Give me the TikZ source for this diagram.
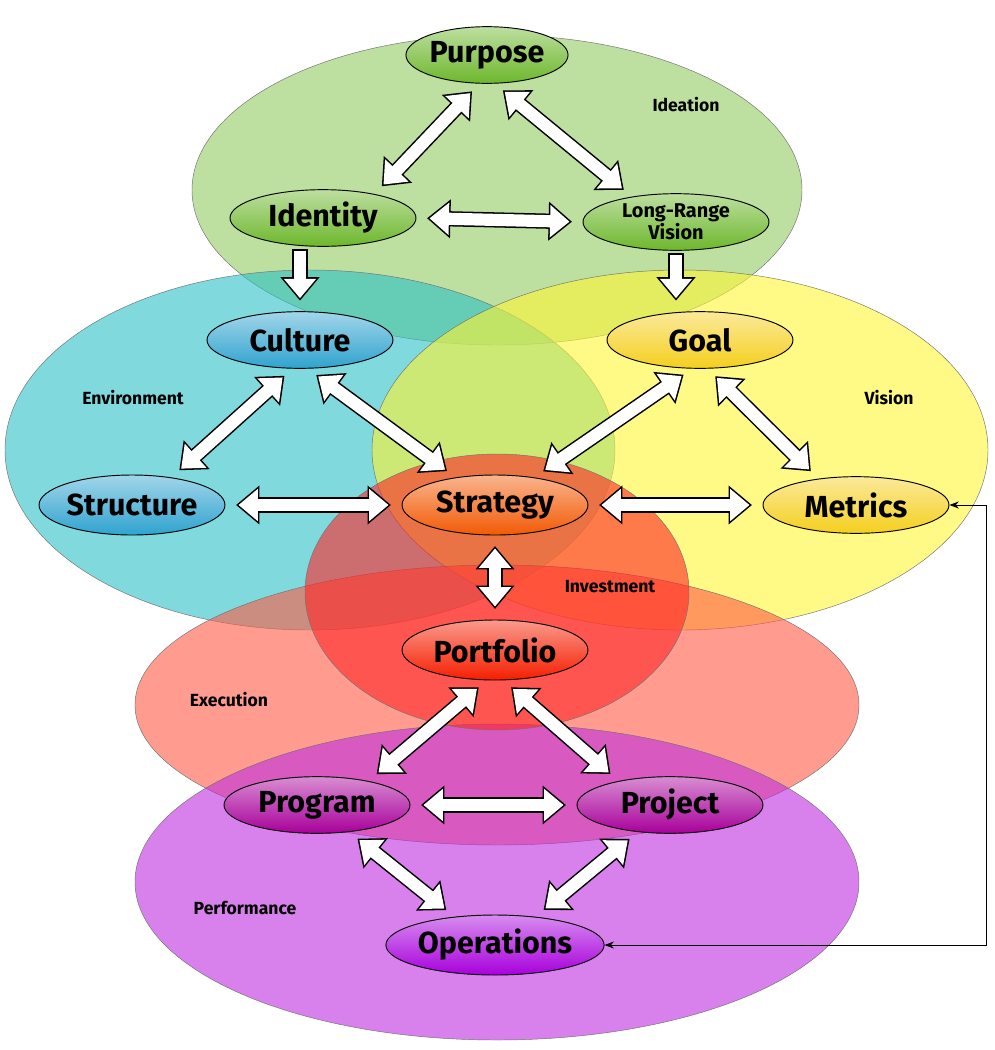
\documentclass[tikz,border=0pt]{standalone}
\usepackage{fontspec}
\setmainfont{Fira Sans}
\usetikzlibrary{shapes.geometric,arrows.meta}

\tikzset{
  tipB/.tip={Triangle[length=20pt,width=32pt]},
  tipW/.tip={Triangle[length=16.6pt,width=26.6pt]},
  fatb/.style={line width=13pt, black, shorten <=9pt, shorten >=9pt},
  fatw/.style={line width=10.4pt, white, shorten <=11.1pt, shorten >=11.1pt},
  region/.style={draw=black!55, fill opacity=0.6},
  zone/.style={font=\fontsize{15}{17}\selectfont\bfseries},
  item/.style={ellipse, draw=black, thick, inner sep=0pt,
    minimum width=55.8mm, minimum height=17mm,
    font=\fontsize{26}{28}\selectfont\bfseries, align=center,
    top color=#1!45!white, bottom color=#1},
}
\newcommand\twoway[2]{%
  \draw[fatb,tipB-tipB] #1 -- #2;
  \draw[fatw,tipW-tipW] #1 -- #2;}
\newcommand\oneway[2]{%
  \draw[fatb,-tipB,shorten <=2pt] #1 -- #2;
  \draw[fatw,-tipW,shorten <=3.3pt] #1 -- #2;}

\definecolor{leaf}{HTML}{6DB72C}
\definecolor{sky}{HTML}{2FA3CF}
\definecolor{sun}{HTML}{F5CF1E}
\definecolor{ember}{HTML}{F25A05}
\definecolor{blood}{HTML}{F51E00}
\definecolor{plum}{HTML}{A8009A}
\definecolor{violet}{HTML}{A800DC}
\definecolor{lagoon}{HTML}{2CC0C4}
\definecolor{salmon}{HTML}{FF5A45}
\definecolor{orchid}{HTML}{BE2CE0}

\begin{document}
\begin{tikzpicture}[x=0.3mm, y=-0.3mm]
  \useasboundingbox (0,0) rectangle (994,1050);

  % Regions
  \path[region, fill=leaf!75] (497,190) ellipse [x radius=91.5mm, y radius=46.5mm];
  \path[region, fill=lagoon] (310,450) ellipse [x radius=91.5mm, y radius=54mm];
  \path[region, fill=yellow!80] (680,450) ellipse [x radius=92.4mm, y radius=54mm];
  \path[region, fill=salmon] (497,705) ellipse [x radius=108.6mm, y radius=42mm];
  \path[region, fill=orchid] (497,882) ellipse [x radius=108.6mm, y radius=47.4mm];
  \path[region, fill=red!85] (497,592) ellipse [x radius=57.6mm, y radius=41.4mm];

  % Region labels
  \node[zone] (ideation) at (686,105) {Ideation};
  \node[zone] (environment) at (133,398) {Environment};
  \node[zone] (vision) at (889,398) {Vision};
  \node[zone] (investment) at (610,587) {Investment};
  \node[zone] (execution) at (229,700) {Execution};
  \node[zone] (performance) at (245,908) {Performance};

  % Nodes
  \node[item=leaf, minimum width=47mm] (purpose) at (487,55) {Purpose};
  \node[item=leaf] (identity) at (323,218) {Identity};
  \node[item=leaf, font=\fontsize{17}{17}\selectfont\bfseries] (lrv) at (676,222) {Long-Range\\Vision};
  \node[item=sky] (culture) at (300,340) {Culture};
  \node[item=sun] (goal) at (700,340) {Goal};
  \node[item=sky, minimum height=18mm] (structure) at (132,505) {Structure};
  \node[item=ember, minimum height=18mm] (strategy) at (495,505) {Strategy};
  \node[item=sun] (metrics) at (856,505) {Metrics};
  \node[item=blood, minimum height=18mm] (portfolio) at (495,650) {Portfolio};
  \node[item=plum] (program) at (317,805) {Program};
  \node[item=plum] (project) at (670,805) {Project};
  \node[item=violet, minimum width=60mm, minimum height=18mm] (operations) at (495,945) {Operations};

  % Links
  \twoway{(purpose.255)}{(identity.25)}
  \twoway{(purpose.285)}{(lrv.150)}
  \twoway{(identity.east)}{(lrv.west)}
  \oneway{(identity.south -| culture.north)}{(culture.north)}
  \oneway{(lrv.south)}{(lrv.south |- goal.north)}
  \twoway{(culture.255)}{(structure.35)}
  \twoway{(culture.285)}{(strategy.145)}
  \twoway{(structure.east)}{(strategy.west)}
  \twoway{(goal.255)}{(strategy.35)}
  \twoway{(goal.285)}{(metrics.145)}
  \twoway{(strategy.east)}{(metrics.west)}
  \twoway{(strategy.south)}{(portfolio.north)}
  \twoway{(portfolio.255)}{(program.25)}
  \twoway{(portfolio.285)}{(project.155)}
  \twoway{(program.east)}{(project.west)}
  \twoway{(program.320)}{(operations.145)}
  \twoway{(project.220)}{(operations.35)}
  \draw[{Stealth[length=8pt]}-{Stealth[length=8pt]}, semithick]
    (metrics.east) -- ++(37,0) |- (operations.east);
\end{tikzpicture}
\end{document}
